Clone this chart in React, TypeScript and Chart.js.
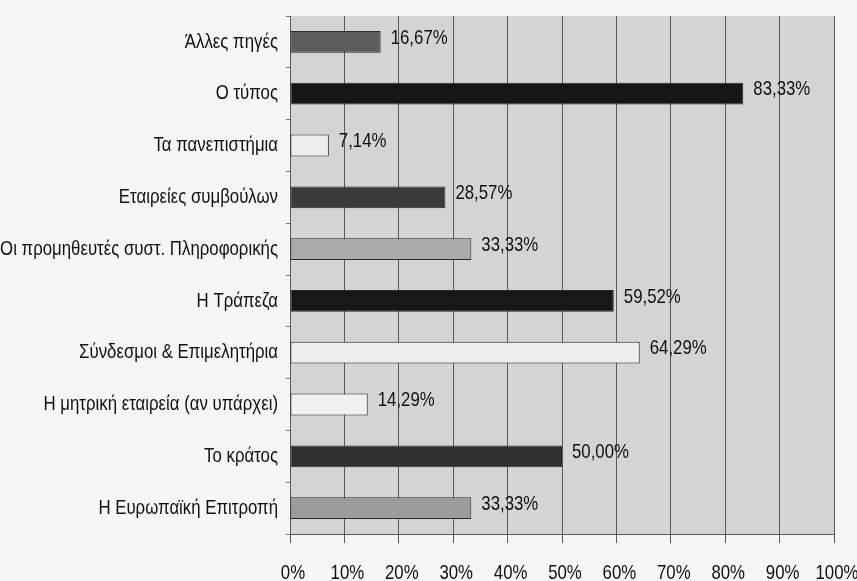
import React, { useEffect, useRef } from "react";
import { Chart, registerables } from "chart.js";

Chart.register(...registerables);

const categories = [
  "Άλλες πηγές",
  "Ο τύπος",
  "Τα πανεπιστήμια",
  "Εταιρείες συμβούλων",
  "Οι προμηθευτές συστ. Πληροφορικής",
  "Η Τράπεζα",
  "Σύνδεσμοι & Επιμελητήρια",
  "Η μητρική εταιρεία (αν υπάρχει)",
  "Το κράτος",
  "Η Ευρωπαϊκή Επιτροπή",
];

const values = [16.67, 83.33, 7.14, 28.57, 33.33, 59.52, 64.29, 14.29, 50.0, 33.33];

const barColors = [
  "#5c5c5c",
  "#161616",
  "#ededed",
  "#3b3b3b",
  "#ababab",
  "#171717",
  "#eeeeee",
  "#f1f1f1",
  "#303030",
  "#9c9c9c",
];

const FONT = "21px 'Liberation Sans', Arial, sans-serif";
const NARROW = 0.8; // horizontal squeeze that gives the condensed lettering
const TEXT_COLOR = "#111111";

// Draws condensed text: x is the anchor point in canvas pixels.
function drawNarrow(ctx: CanvasRenderingContext2D, text: string, x: number, y: number, align: CanvasTextAlign) {
  ctx.save();
  ctx.translate(x, y);
  ctx.scale(NARROW, 1);
  ctx.font = FONT;
  ctx.fillStyle = TEXT_COLOR;
  ctx.textAlign = align;
  ctx.textBaseline = "middle";
  ctx.fillText(text, 0, 0);
  ctx.restore();
}

const plotBackground = {
  id: "plotBackground",
  beforeDraw(chart: any) {
    const { ctx, chartArea } = chart;
    ctx.save();
    ctx.fillStyle = "#d4d4d4";
    ctx.fillRect(chartArea.left, chartArea.top, chartArea.right - chartArea.left, chartArea.bottom - chartArea.top);
    ctx.restore();
  },
};

const axisLabels = {
  id: "axisLabels",
  afterDraw(chart: any) {
    const { ctx, chartArea, scales } = chart;
    const y = scales.y;
    y.ticks.forEach((_t: any, i: number) => {
      drawNarrow(ctx, categories[i], chartArea.left - 12, y.getPixelForTick(i), "right");
    });
    const x = scales.x;
    x.ticks.forEach((t: any, i: number) => {
      drawNarrow(ctx, `${t.value}%`, x.getPixelForTick(i) + 3, chartArea.bottom + 39, "center");
    });
  },
};

const valueLabels = {
  id: "valueLabels",
  afterDatasetsDraw(chart: any) {
    const { ctx } = chart;
    const meta = chart.getDatasetMeta(0);
    meta.data.forEach((bar: any, i: number) => {
      const text = values[i].toFixed(2).replace(".", ",") + "%";
      drawNarrow(ctx, text, bar.x + 10, bar.y - 4, "left");
    });
  },
};

export default function App() {
  const canvasRef = useRef<HTMLCanvasElement | null>(null);

  useEffect(() => {
    if (!canvasRef.current) return;
    const chart = new Chart(canvasRef.current, {
      type: "bar",
      data: {
        labels: categories,
        datasets: [
          {
            data: values,
            backgroundColor: barColors,
            borderColor: "#2a2a2a",
            borderWidth: 1,
            borderSkipped: false,
            barPercentage: 0.42,
            categoryPercentage: 1,
          },
        ],
      },
      options: {
        indexAxis: "y",
        animation: false,
        responsive: false,
        maintainAspectRatio: false,
        layout: { padding: { top: 16, right: 23, left: 0, bottom: 0 } },
        plugins: {
          legend: { display: false },
          tooltip: { enabled: false },
        },
        scales: {
          x: {
            min: 0,
            max: 100,
            ticks: { stepSize: 10, display: false },
            grid: { color: "#5a5a5a", lineWidth: 1, tickLength: 9 },
            border: { display: true, color: "#5a5a5a" },
            afterFit: (scale: any) => {
              scale.height = 47;
            },
          },
          y: {
            ticks: { display: false, autoSkip: false },
            grid: { drawOnChartArea: false, tickLength: 4, color: "#777" },
            border: { display: true, color: "#5a5a5a" },
            afterFit: (scale: any) => {
              scale.width = 290;
            },
          },
        },
      },
      plugins: [plotBackground, valueLabels, axisLabels],
    });
    return () => chart.destroy();
  }, []);

  return (
    <div style={{ position: "absolute", left: 0, top: 0, width: 857, height: 581, background: "#f6f6f6" }}>
      <canvas ref={canvasRef} width={857} height={581} style={{ display: "block" }} />
    </div>
  );
}
